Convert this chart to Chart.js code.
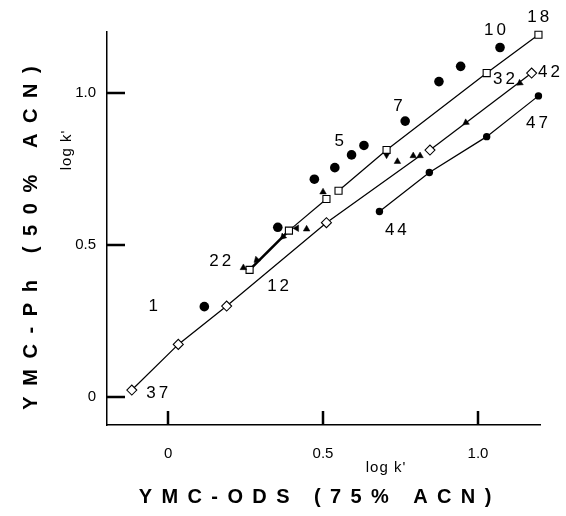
<!DOCTYPE html>
<html>
<head>
<meta charset="utf-8">
<script src="https://cdn.jsdelivr.net/npm/chart.js@4/dist/chart.umd.min.js"></script>
<style>
html,body{margin:0;padding:0;background:#fff;}
#wrap{width:566px;height:516px;position:relative;}
</style>
</head>
<body>
<div id="wrap"><canvas id="c"></canvas></div>
<script>
// ---- data (log k' values) ----
const scatterCircleX = [0.117, 0.354, 0.472, 0.538, 0.592, 0.632, 0.765, 0.874, 0.944, 1.071];
const scatterCircleY = [0.297, 0.558, 0.716, 0.754, 0.796, 0.827, 0.907, 1.037, 1.087, 1.149];
const circleLineX = [0.682, 0.843, 1.028, 1.195];
const circleLineY = [0.610, 0.738, 0.856, 0.990];
const squareLowX = [0.263, 0.390, 0.511];
const squareLowY = [0.418, 0.547, 0.651];
const squareHighX = [0.550, 0.705, 1.028, 1.195];
const squareHighY = [0.678, 0.812, 1.065, 1.191];
const diamondLowX = [-0.117, 0.033, 0.189, 0.511];
const diamondLowY = [0.023, 0.173, 0.299, 0.573];
const diamondHighX = [0.845, 1.173];
const diamondHighY = [0.812, 1.065];
const triangleX = [0.243, 0.286, 0.371, 0.415, 0.447, 0.500, 0.705, 0.740, 0.791, 0.813, 0.961, 1.135];
const triangleY = [0.425, 0.451, 0.527, 0.555, 0.552, 0.674, 0.796, 0.774, 0.793, 0.793, 0.902, 1.032];
const triangleDir = [0, 225, 225, 270, 0, 0, 180, 240, 0, 0, 235, 235];
const lowLineEndIndex = 9; // diamond line ends at this triangle

const compoundLabels = ['1', '22', '12', '5', '7', '10', '18', '32', '42', '47', '44', '37'];
const compoundLabelX = [-0.048, 0.168, 0.355, 0.552, 0.742, 1.055, 1.194, 1.084, 1.229, 1.190, 0.735, -0.035];
const compoundLabelY = [0.299, 0.447, 0.365, 0.839, 0.957, 1.207, 1.247, 1.046, 1.069, 0.901, 0.549, 0.013];

const xTickValues = [0, 0.5, 1.0];
const xTickLabels = ['0', '0.5', '1.0'];
const yTickValues = [0, 0.5, 1.0];
const yTickLabels = ['0', '0.5', '1.0'];
const xRange = [-0.197, 1.2];
const yRange = [-0.092, 1.2];
const xTitle = 'YMC-ODS (75% ACN)';
const yTitle = 'YMC-Ph (50% ACN)';
const unitLabel = "log k'";

// ---- helpers ----
const pts = (xs, ys) => xs.map((v, i) => ({x: v, y: ys[i]}));
const FONT = '"Liberation Sans", Arial, Helvetica, sans-serif';

const lineStyle = {showLine: true, pointRadius: 0, borderColor: '#000', borderWidth: 1.25, fill: false, order: 5, clip: false};
const lowDiamondPath = pts(diamondLowX, diamondLowY).concat([{x: triangleX[lowLineEndIndex], y: triangleY[lowLineEndIndex]}]);

const datasets = [
  Object.assign({data: lowDiamondPath}, lineStyle),
  Object.assign({data: pts(diamondHighX, diamondHighY)}, lineStyle),
  Object.assign({data: pts(squareHighX, squareHighY)}, lineStyle),
  Object.assign({data: pts(squareLowX, squareLowY),
    segment: {borderWidth: c => c.p0DataIndex === 0 ? 2.6 : 1.25}}, lineStyle),
  Object.assign({data: pts(circleLineX, circleLineY)}, lineStyle),
  {data: pts(scatterCircleX, scatterCircleY), showLine: false, pointStyle: 'circle', pointRadius: 4.8,
    backgroundColor: '#000', borderColor: '#000', borderWidth: 0, order: 1, clip: false},
  {data: pts(circleLineX, circleLineY), showLine: false, pointStyle: 'circle', pointRadius: 3.7,
    backgroundColor: '#000', borderColor: '#000', borderWidth: 0, order: 1, clip: false},
  {data: pts(squareLowX.concat(squareHighX), squareLowY.concat(squareHighY)), showLine: false, pointStyle: 'rect',
    pointRadius: 5, backgroundColor: '#fff', borderColor: '#000', borderWidth: 1.1, order: 1, clip: false},
  {data: pts(diamondLowX.concat(diamondHighX), diamondLowY.concat(diamondHighY)), showLine: false, pointStyle: 'rectRot',
    pointRadius: 5, backgroundColor: '#fff', borderColor: '#000', borderWidth: 1.1, order: 1, clip: false},
  {data: pts(triangleX, triangleY), showLine: false, pointStyle: 'triangle', pointRadius: 3.8,
    rotation: triangleDir, backgroundColor: '#000', borderColor: '#000', borderWidth: 0.5, order: 0, clip: false}
];

function drawTickMarks(chart) {
  const ctx = chart.ctx;
  const x = chart.scales.x, y = chart.scales.y;
  const left = x.left, bottom = y.bottom;
  ctx.save();
  ctx.setLineDash([]);
  ctx.globalAlpha = 1;
  ctx.strokeStyle = '#000';
  ctx.lineWidth = 2.5;
  ctx.lineCap = 'butt';
  ctx.beginPath();
  xTickValues.forEach(v => {
    const px = Math.round(x.getPixelForValue(v));
    ctx.moveTo(px, bottom);
    ctx.lineTo(px, bottom - 14);
  });
  yTickValues.forEach(v => {
    const py = Math.round(y.getPixelForValue(v));
    ctx.moveTo(left, py);
    ctx.lineTo(left + 18, py);
  });
  ctx.stroke();
  ctx.restore();
}

const decor = {
  id: 'decor',
  afterDraw(chart) {
    const ctx = chart.ctx;
    const x = chart.scales.x, y = chart.scales.y;
    drawTickMarks(chart);
    ctx.save();
    ctx.fillStyle = '#000';
    ctx.textBaseline = 'middle';
    ctx.textAlign = 'center';
    // compound numbers
    ctx.font = '17px ' + FONT;
    ctx.letterSpacing = '3px';
    compoundLabels.forEach((t, i) => {
      ctx.fillText(t, x.getPixelForValue(compoundLabelX[i]) + 1.5, y.getPixelForValue(compoundLabelY[i]));
    });
    // unit labels
    ctx.font = '15px ' + FONT;
    ctx.letterSpacing = '1px';
    ctx.fillText(unitLabel, 386, 468);
    ctx.save();
    ctx.translate(67, 150);
    ctx.rotate(-Math.PI / 2);
    ctx.fillText(unitLabel, 0, 0);
    ctx.restore();
    // axis titles
    ctx.font = 'bold 20px ' + FONT;
    ctx.letterSpacing = '9.4px';
    ctx.fillText(xTitle, 315 + 4.7, 497);
    ctx.letterSpacing = '10.6px';
    ctx.save();
    ctx.translate(31, 238);
    ctx.rotate(-Math.PI / 2);
    ctx.fillText(yTitle, 5.3, 0);
    ctx.restore();
    ctx.restore();
  }
};

new Chart(document.getElementById('c'), {
  type: 'scatter',
  data: {datasets},
  options: {
    responsive: true,
    maintainAspectRatio: false,
    animation: false,
    devicePixelRatio: 1,
    layout: {padding: {top: 32, right: 26, left: 0, bottom: 0}},
    plugins: {legend: {display: false}, tooltip: {enabled: false}},
    scales: {
      x: {
        type: 'linear', min: xRange[0], max: xRange[1],
        afterFit: s => { s.height = 91; },
        afterBuildTicks: s => { s.ticks = xTickValues.map(v => ({value: v})); },
        grid: {display: false, drawTicks: false},
        border: {display: true, color: '#000', width: 1.5},
        ticks: {padding: 20, color: '#000', font: {size: 15, family: FONT},
          callback: (v) => xTickLabels[xTickValues.indexOf(v)], maxRotation: 0, autoSkip: false}
      },
      y: {
        type: 'linear', min: yRange[0], max: yRange[1],
        afterFit: s => { s.width = 107; },
        afterBuildTicks: s => { s.ticks = yTickValues.map(v => ({value: v})); },
        grid: {display: false, drawTicks: false},
        border: {display: true, color: '#000', width: 1.5},
        ticks: {padding: 11, color: '#000', font: {size: 15, family: FONT},
          callback: (v) => yTickLabels[yTickValues.indexOf(v)], autoSkip: false}
      }
    }
  },
  plugins: [decor]
});
</script>
</body>
</html>
